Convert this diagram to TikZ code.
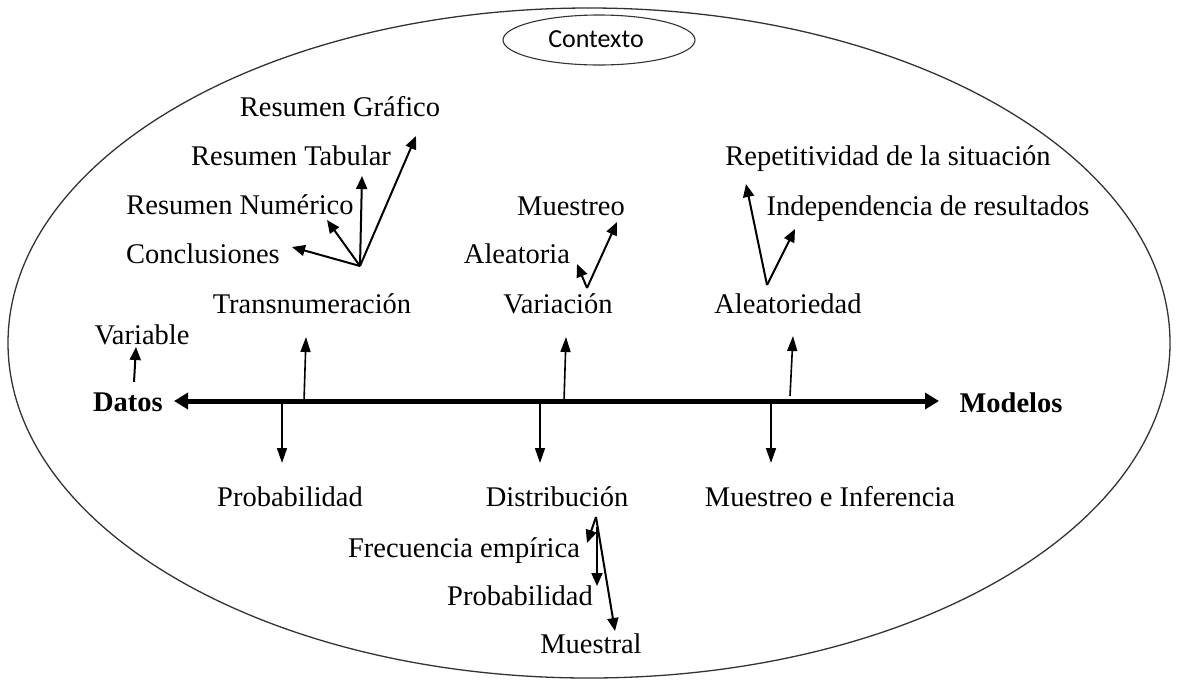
\documentclass[tikz,border=0pt]{standalone}
\usepackage{fontspec}
\setmainfont{Liberation Serif}
\newfontfamily\ctxfont{Carlito}
\usetikzlibrary{arrows.meta}
\begin{document}
\begin{tikzpicture}[x=1pt,y=-1pt,
  lbl/.style={anchor=base,inner sep=0pt,font=\fontsize{28.5}{32}\selectfont},
  blbl/.style={lbl,font=\fontsize{28.5}{32}\selectfont\bfseries},
  arr/.style={line width=2pt,-{Triangle[length=13pt,width=11pt]}},
  varr/.style={line width=1.6pt,-{Triangle[length=15pt,width=10pt]}},
  axis/.style={line width=5pt,{Triangle[length=14pt,width=16pt]}-{Triangle[length=14pt,width=16pt]}}]
\useasboundingbox (0,0) rectangle (1177,681);
% outer ellipse
\draw[line width=1.3pt,black!80] (589,343) ellipse [x radius=581,y radius=335];
\draw[line width=1.1pt,black!80,fill=white] (599,40) ellipse [x radius=96,y radius=25];
\node[inner sep=0pt,font=\ctxfont\fontsize{26}{30}\selectfont] (ctx) at (596,39) {Contexto};
% labels
\node[lbl] (rg) at (340,116) {Resumen Gráfico};
\node[lbl] (rt) at (291,165) {Resumen Tabular};
\node[lbl] (rn) at (240,214) {Resumen Numérico};
\node[lbl] (con) at (203,263) {Conclusiones};
\node[lbl] (tr) at (312,313) {Transnumeración};
\node[lbl] (var) at (142,344) {Variable};
\node[blbl] (datos) at (128,411) {Datos};
\node[blbl] (mod) at (1011,412) {Modelos};
\node[lbl] (mue) at (571,215) {Muestreo};
\node[lbl] (alea) at (517,263) {Aleatoria};
\node[lbl] (vari) at (558,313) {Variación};
\node[lbl] (rep) at (888,165) {Repetitividad de la situación};
\node[lbl] (ind) at (928,215) {Independencia de resultados};
\node[lbl] (aled) at (788,313) {Aleatoriedad};
\node[lbl] (prob) at (290,506) {Probabilidad};
\node[lbl] (dist) at (557,506) {Distribución};
\node[lbl] (mei) at (830,506) {Muestreo e Inferencia};
\node[lbl] (fe) at (464,557) {Frecuencia empírica};
\node[lbl] (prob2) at (520,605) {Probabilidad};
\node[lbl] (muesl) at (591,653) {Muestral};
% coordinates
\coordinate (al) at (174,401);
\coordinate (ar) at (939,401);
\coordinate (u1a) at (304,401); \coordinate (u1b) at (306,337);
\coordinate (u2a) at (564,401); \coordinate (u2b) at (566,337);
\coordinate (u3a) at (790,396); \coordinate (u3b) at (793,336);
\coordinate (d1a) at (282,401); \coordinate (d1b) at (282,463);
\coordinate (d2a) at (540,401); \coordinate (d2b) at (540,463);
\coordinate (d3a) at (771,401); \coordinate (d3b) at (771,463);
\coordinate (va) at (134,382); \coordinate (vb) at (136,347);
\coordinate (tf) at (360,266);
\coordinate (tc) at (292,247); \coordinate (tn) at (327,220);
\coordinate (tt) at (362,176); \coordinate (tg) at (416,136);
\coordinate (vf) at (587,288);
\coordinate (vl) at (577,264); \coordinate (vm) at (617,222);
\coordinate (af) at (767,285);
\coordinate (ar1) at (746,184); \coordinate (ai) at (795,229);
\coordinate (df) at (596,517);
\coordinate (dfe) at (587,543); \coordinate (dps) at (597,527);
\coordinate (dp) at (597,586); \coordinate (dm) at (615,631);
% axis
\draw[axis] (al) -- (ar);
\draw[varr] (u1a) -- (u1b);
\draw[varr] (u2a) -- (u2b);
\draw[varr] (u3a) -- (u3b);
\draw[varr] (d1a) -- (d1b);
\draw[varr] (d2a) -- (d2b);
\draw[varr] (d3a) -- (d3b);
\draw[arr] (va) -- (vb);
% fans
\draw[arr] (tf) -- (tc);
\draw[arr] (tf) -- (tn);
\draw[arr] (tf) -- (tt);
\draw[arr] (tf) -- (tg);
\draw[arr] (vf) -- (vl);
\draw[arr] (vf) -- (vm);
\draw[arr] (af) -- (ar1);
\draw[arr] (af) -- (ai);
\draw[arr] (df) -- (dfe);
\draw[arr] (dps) -- (dp);
\draw[arr] (df) -- (dm);
\end{tikzpicture}
\end{document}
